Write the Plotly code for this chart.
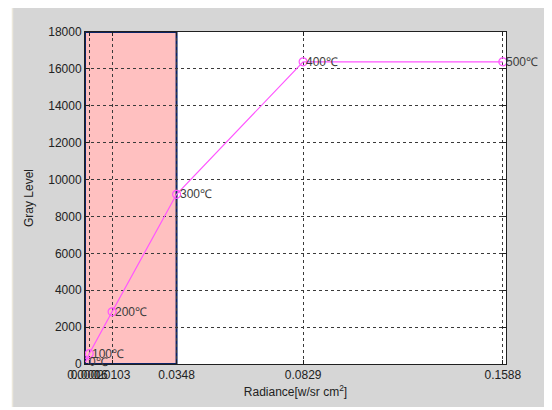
import plotly.graph_objects as go

# ---- data ----
temps = ["0℃", "100℃", "200℃", "300℃", "400℃", "500℃"]
radiance = [0.0002, 0.0016, 0.0103, 0.0348, 0.0829, 0.1588]
gray_level = [100, 560, 2830, 9200, 16383, 16383]
x_tick_vals = [0.0002, 0.0016, 0.0103, 0.0348, 0.0829, 0.1588]
x_tick_text = ["0.0002", "0.0016", "0.0103", "0.0348", "0.0829", "0.1588"]
y_tick_vals = [0, 2000, 4000, 6000, 8000, 10000, 12000, 14000, 16000, 18000]
highlight_x = [0, 0.0348]
highlight_y = [0, 18000]

# page body has an 8px margin, so the figure is drawn at (8, 8)
OFF = 8
W, H = 552 - OFF, 410 - OFF
L, R, T, B = 85 - OFF, W - (506 - OFF), 32 - OFF, H - (364 - OFF)
PW, PH = W - L - R, H - T - B

def px(xp):
    return (xp - OFF - L) / PW

def py(yp):
    return (H - B - (yp - OFF)) / PH

FONT = "Liberation Sans, Arial, sans-serif"
MAG = "#ff55ff"
GRID = "#3a3a3a"

fig = go.Figure()
fig.add_trace(go.Scatter(
    x=radiance, y=gray_level, mode="lines+markers",
    line=dict(color=MAG, width=1.2),
    marker=dict(symbol="circle-open", size=8, color=MAG, line=dict(width=1.2, color=MAG)),
    showlegend=False, hoverinfo="skip",
))

for t, xv, yv in zip(temps, radiance, gray_level):
    fig.add_annotation(x=xv, y=yv, text=t, showarrow=False, xanchor="left", yanchor="middle",
                       xshift=1, font=dict(family=FONT, size=12, color="#3c3c3c"))

shapes = [
    # highlighted region
    dict(type="rect", xref="x", yref="y", x0=highlight_x[0], x1=highlight_x[1],
         y0=highlight_y[0], y1=highlight_y[1], fillcolor="#ffc0c0",
         line=dict(color="#0a2466", width=2), layer="below"),
    # white outer margins (left strip and bottom strip)
    dict(type="rect", xref="paper", yref="paper", x0=px(OFF), x1=px(12), y0=py(OFF), y1=py(410),
         fillcolor="white", line=dict(width=0), layer="below"),
    dict(type="rect", xref="paper", yref="paper", x0=px(OFF), x1=px(552), y0=py(407), y1=py(410),
         fillcolor="white", line=dict(width=0), layer="below"),
    dict(type="line", xref="paper", yref="paper", x0=px(12.5), x1=px(12.5), y0=py(OFF), y1=py(407),
         line=dict(color="#ece8dc", width=1.5), layer="below"),
]

fig.update_layout(
    width=W, height=H,
    margin=dict(l=L, r=R, t=T, b=B, pad=0),
    paper_bgcolor="#d6d6d6", plot_bgcolor="white",
    font=dict(family=FONT, size=12, color="#222"),
    shapes=shapes,
    showlegend=False,
)

fig.update_xaxes(
    range=[0, 0.16], tickmode="array", tickvals=x_tick_vals, ticktext=x_tick_text,
    tickangle=0,
    showgrid=True, gridcolor=GRID, griddash="dot", gridwidth=1,
    zeroline=False, showline=True, linecolor="#202020", linewidth=1, mirror="ticks",
    ticks="inside", ticklen=4, tickcolor="#202020",
    tickfont=dict(family=FONT, size=12, color="#222"),
    title=dict(text="Radiance[w/sr cm<sup>2</sup>]", font=dict(family=FONT, size=12, color="#222"), standoff=6),
    automargin=False,
)
fig.update_yaxes(
    range=[0, 18000], tickmode="array", tickvals=y_tick_vals, tickformat="d",
    showgrid=True, gridcolor=GRID, griddash="dot", gridwidth=1,
    zeroline=False, showline=True, linecolor="#202020", linewidth=1, mirror="ticks",
    ticks="inside", ticklen=4, tickcolor="#202020",
    tickfont=dict(family=FONT, size=12, color="#222"),
    title=dict(text="Gray Level", font=dict(family=FONT, size=12, color="#222"), standoff=12),
    automargin=False,
)

fig.write_html("out.html")
